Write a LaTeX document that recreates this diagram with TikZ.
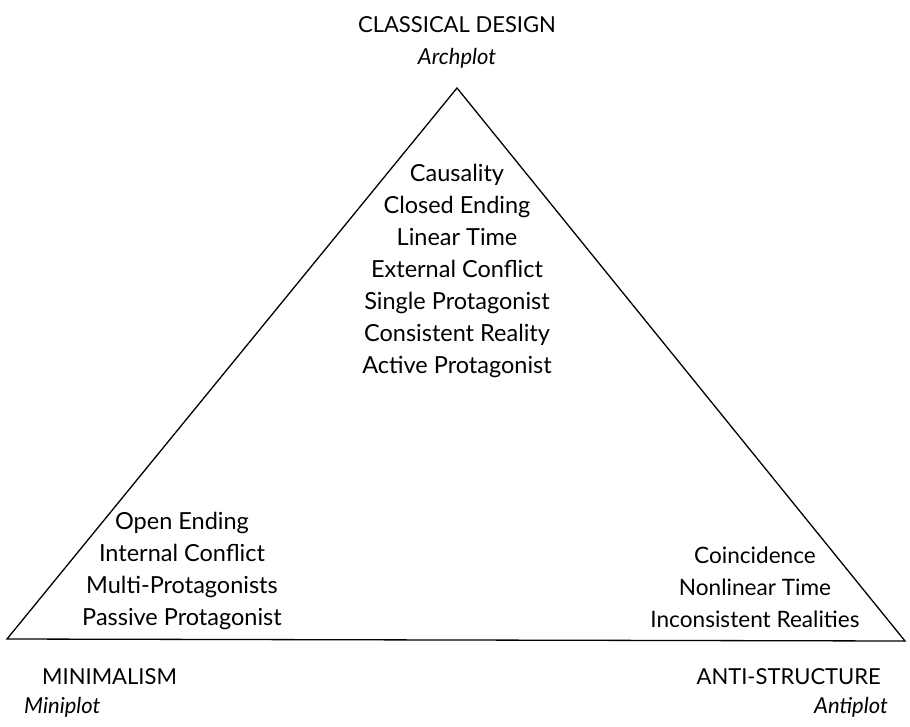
\documentclass[tikz,border=0pt]{standalone}
\usepackage{fontspec}
\setmainfont{Lato}
\begin{document}
\begin{tikzpicture}[x=1pt,y=-1pt,
  lbl/.style={inner sep=0pt, font=\fontsize{22}{32}\selectfont, align=center},
  body/.style={inner sep=0pt, font=\fontsize{23.5}{32}\selectfont, align=center},
  bodyr/.style={inner sep=0pt, font=\fontsize{22.6}{32}\selectfont, align=center},
  tri/.style={draw=black, line width=1.3pt, line join=miter}]
\useasboundingbox (0,0) rectangle (910,726);
\coordinate (apex) at (457,88);
\coordinate (bl) at (7,639);
\coordinate (br) at (905,641);
\draw[tri] (apex) -- (br) -- (bl) -- cycle;
\node[lbl, anchor=center] (top) at (457,42) {CLASSICAL DESIGN\\\textit{Archplot}};
\node[body, anchor=center] (mid) at (457,271) {Causality\\Closed Ending\\Linear Time\\External Conflict\\Single Protagonist\\Consistent Reality\\Active Protagonist};
\node[body, anchor=center] (left) at (182,571) {Open Ending\\Internal Conflict\\Multi-Protagonists\\Passive Protagonist};
\node[bodyr, anchor=center] (right) at (755,587) {Coincidence\\Nonlinear Time\\Inconsistent Realities};
\node[lbl, anchor=west] (minimal) at (42,677) {MINIMALISM};
\node[lbl, anchor=west] (mini) at (24,707) {\textit{Miniplot}};
\node[lbl, anchor=east] (anti) at (881,677) {ANTI-STRUCTURE};
\node[lbl, anchor=east] (antip) at (888,707) {\textit{Antiplot}};
\end{tikzpicture}
\end{document}
